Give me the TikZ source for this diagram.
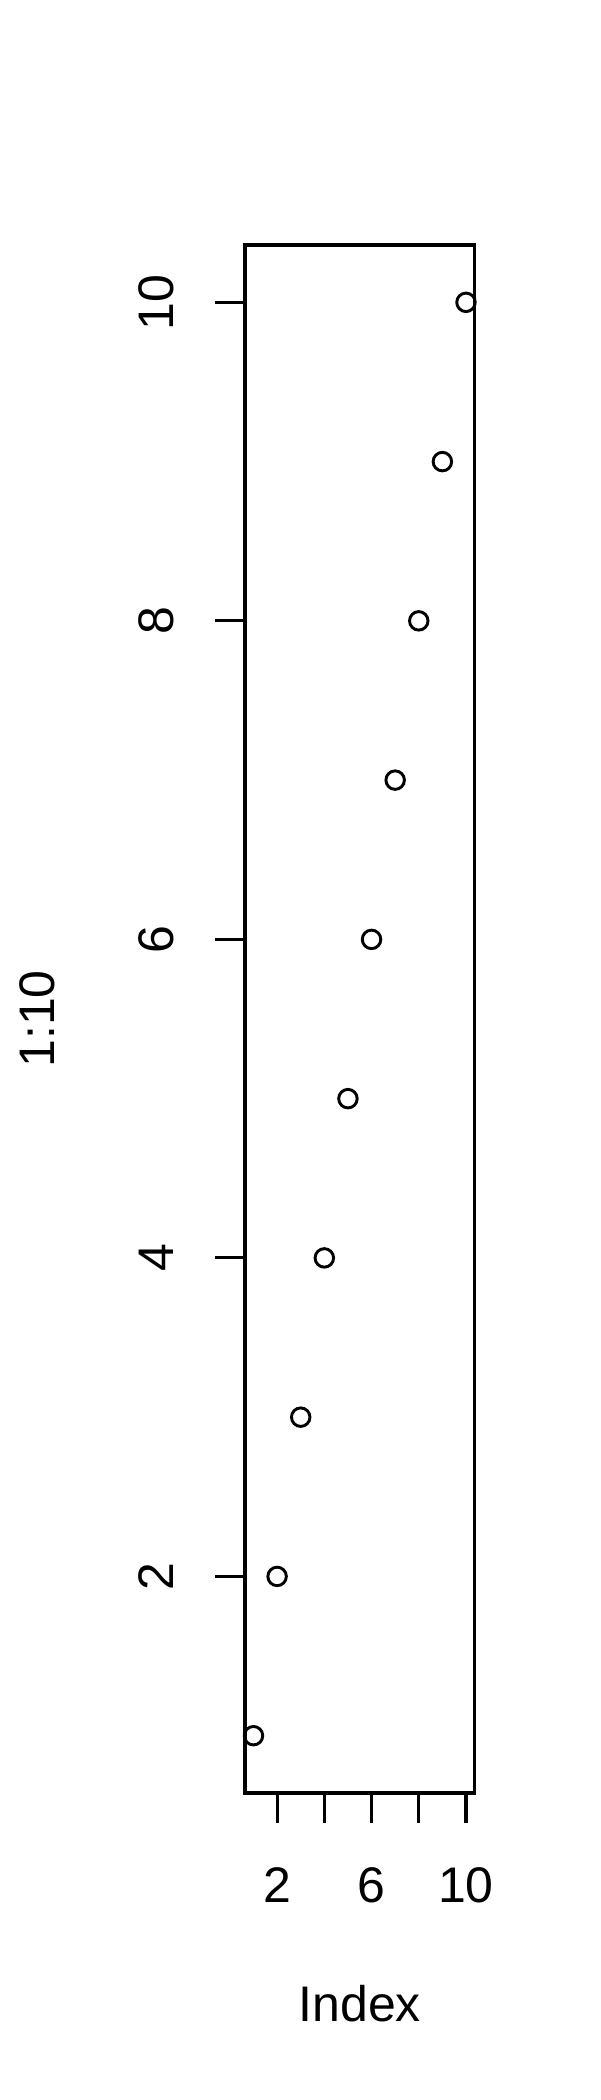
\documentclass[tikz,border=0pt]{standalone}
\usepackage{fontspec}
\setmainfont{Liberation Sans}
\begin{document}
\begin{tikzpicture}[x=0.24pt,y=-0.24pt,
  axisline/.style={line width=0.75pt,line cap=butt},
  pt/.style={circle,draw,line width=0.7pt,minimum size=18.5*0.24pt,inner sep=0pt},
  lab/.style={inner sep=0pt,anchor=base,font=\fontsize{12pt}{14.4pt}\selectfont}]
\useasboundingbox (0,0) rectangle (600,2100);
\fill[white] (0,0) rectangle (600,2100);
% plot box
\draw[axisline] (245,245) rectangle (474.5,1793);
% x ticks
\foreach \u in {2,4,6,8,10}{
  \draw[axisline] ({245+(\u-0.64)*23.61},1793) -- ({245+(\u-0.64)*23.61},1823);
}
\foreach \u in {2,6,10}{
  \node[lab] (xl\u) at ({245+(\u-0.64)*23.61},1902) {\u};
}
% y ticks
\foreach \v in {2,4,6,8,10}{
  \draw[axisline] (245,{1793-(\v-0.64)*159.26}) -- (215,{1793-(\v-0.64)*159.26});
  \node[lab,rotate=90] (yl\v) at (173,{1793-(\v-0.64)*159.26}) {\v};
}
% points
\foreach \i in {1,...,10}{
  \node[pt] (p\i) at ({245+(\i-0.64)*23.61},{1793-(\i-0.64)*159.26}) {};
}
% axis titles
\node[lab] (xt) at (359.75,2021) {Index};
\node[lab,rotate=90] (yt) at (54,1019) {1:10};
\end{tikzpicture}
\end{document}
